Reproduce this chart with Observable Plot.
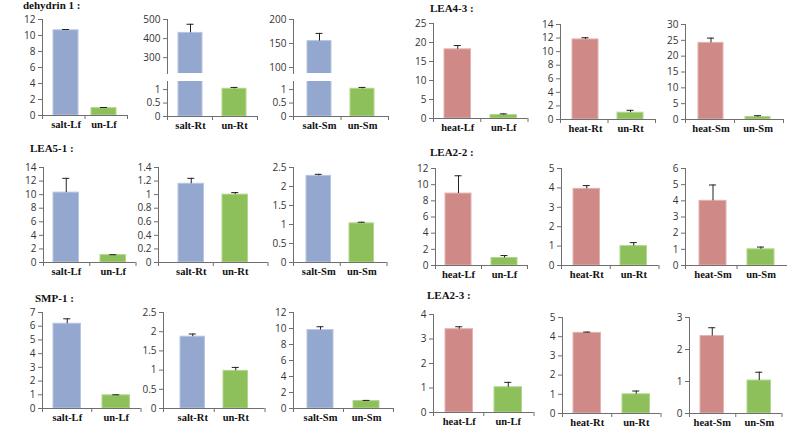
<!DOCTYPE html>
<html><head><meta charset="utf-8">
<script src="https://cdn.jsdelivr.net/npm/d3@7"></script>
<script src="https://cdn.jsdelivr.net/npm/@observablehq/plot@0.6"></script>
<style>
body{margin:0;background:#fff;}
#chart{position:relative;width:787px;height:432px;overflow:hidden;background:#fff;}
.pp{position:absolute;overflow:visible;}
.pp [aria-label^="y-axis"] text{fill:#333;}
.title{position:absolute;font:bold 11px "Liberation Serif",serif;line-height:11px;color:#111;white-space:nowrap;}
</style></head><body><div id="chart"></div>
<script>
// ---------- data ----------
const saltGenes = ["dehydrin 1 :", "LEA5-1 :", "SMP-1 :"];
const heatGenes = ["LEA4-3 :", "LEA2-2 :", "LEA2-3 :"];
const saltCats = [["salt-Lf","un-Lf"],["salt-Rt","un-Rt"],["salt-Sm","un-Sm"]];
const heatCats = [["heat-Lf","un-Lf"],["heat-Rt","un-Rt"],["heat-Sm","un-Sm"]];
// [gene][tissue Lf, Rt, Sm]
const saltValues     = [[10.65, 430, 155], [10.3, 1.16, 2.28], [6.18, 1.87, 9.8]];
const saltErrors     = [[0.1, 45, 16],     [2.1, 0.08, 0.04],  [0.36, 0.07, 0.42]];
const saltCtrlValues = [[0.92, 1.03, 1.03],[1.1, 1.0, 1.03],   [0.96, 0.98, 0.93]];
const saltCtrlErrors = [[0.08, 0.05, 0.05],[0.05, 0.03, 0.03], [0.04, 0.09, 0.08]];
const heatValues     = [[18.2, 11.8, 24.2],[8.9, 3.95, 4.0],   [3.4, 4.2, 2.42]];
const heatErrors     = [[1.0, 0.25, 1.5],  [2.2, 0.17, 0.98],  [0.1, 0.04, 0.26]];
const heatCtrlValues = [[0.9, 1.0, 0.8],   [0.93, 1.0, 1.0],   [1.03, 1.0, 1.03]];
const heatCtrlErrors = [[0.32, 0.35, 0.4], [0.3, 0.18, 0.14],  [0.2, 0.17, 0.26]];
// y-axis tick labels
const saltTicks = [
  [[0,2,4,6,8,10,12], null, null],
  [[0,2,4,6,8,10,12,14], [0,0.2,0.4,0.6,0.8,1,1.2,1.4], [0,0.5,1,1.5,2,2.5]],
  [[0,1,2,3,4,5,6,7], [0,0.5,1,1.5,2,2.5], [0,2,4,6,8,10,12]]
];
const heatTicks = [
  [[0,5,10,15,20,25], [0,2,4,6,8,10,12,14], [0,5,10,15,20,25,30]],
  [[0,2,4,6,8,10,12], [0,1,2,3,4,5], [0,1,2,3,4,5,6]],
  [[0,1,2,3,4], [0,1,2,3,4,5], [0,1,2,3]]
];
// broken-axis panels (dehydrin 1, Rt and Sm)
const brokenUpperTicks = [[300,400,500],[100,150,200]];
const brokenUpperDomains = [[217,500],[87.5,200]];
const brokenLowerTicks = [0,0.5,1];
const brokenLowerDomain = [0,1.3];

// ---------- layout (pixels) ----------
const saltLayout = [
  [{x0:42,b1:53,b2:91,bw:25,yTop:19,yZero:115},
   {x0:167,b1:178,b2:222,bw:24,yTop:19,yZero:116,upperBottom:73,lowerTop:81},
   {x0:293,b1:307,b2:350,bw:24,yTop:19,yZero:116,upperBottom:73,lowerTop:81}],
  [{x0:43,b1:53,b2:100,bw:25.5,yTop:167,yZero:262},
   {x0:158,b1:178,b2:222,bw:25.5,yTop:167,yZero:262},
   {x0:293,b1:306,b2:349,bw:24.5,yTop:167,yZero:262}],
  [{x0:42,b1:53,b2:102,bw:27.5,yTop:312,yZero:408},
   {x0:163,b1:180,b2:223,bw:24.5,yTop:312,yZero:408},
   {x0:293,b1:307,b2:353,bw:26,yTop:312,yZero:408}]
];
const heatLayout = [
  [{x0:433,b1:444,b2:490,bw:26.5,yTop:23,yZero:118},
   {x0:560,b1:572,b2:617,bw:26,yTop:24,yZero:119},
   {x0:685,b1:698,b2:745,bw:25,yTop:24,yZero:119}],
  [{x0:435,b1:445,b2:491,bw:26,yTop:168,yZero:265},
   {x0:561,b1:573,b2:620,bw:26.5,yTop:168,yZero:265},
   {x0:685,b1:699,b2:747,bw:27,yTop:168,yZero:265}],
  [{x0:433,b1:445,b2:494,bw:27.5,yTop:314,yZero:412},
   {x0:562,b1:573,b2:622,bw:27.5,yTop:317,yZero:413},
   {x0:689,b1:700,b2:747,bw:23.5,yTop:317,yZero:413}]
];
const titlePos = {salt: [[23,0.3],[30,143.3],[35,292.6]], heat: [[430,3.3],[430,146.6],[427,290.3]]};

const COLORS = {
  salt: {fill:"#94A8CF", stroke:"#B6C5E2"},
  heat: {fill:"#CF8A88", stroke:"#E2B2B0"},
  ctrl: {fill:"#8DC05A", stroke:"#B1D78C"}
};
const AXIS = "#6f6f6f";
const chart = document.getElementById("chart");

function drawPanel({cats, vals, errs, styles, ticks, domain, L, yTop, yBottom, showX}) {
  const step = L.b2 - L.b1;
  const pi = 1 - L.bw / step;
  const po = (L.b1 - L.x0) / step;
  const W = step * (2 - pi + 2 * po);
  const ml = 40, mr = 8, mt = 8, mb = showX ? 24 : 2;
  const plotH = yBottom - yTop;
  const rows = cats.map((c, i) => ({cat: c, value: vals[i], err: errs[i], st: styles[i]}));
  const errRows = rows.filter(d => d.value >= domain[0] && d.value + d.err <= domain[1]);
  const capInset = (L.bw - 7) / 2;
  const edge = L.bw / 2 + po * step;
  const marks = [
    ...rows.map(r => Plot.barY([r], {x: "cat", y1: d => 0, y2: "value", fill: r.st.fill, stroke: r.st.stroke, strokeWidth: 1, clip: true})),
    Plot.ruleX(errRows, {x: "cat", y1: "value", y2: d => d.value + d.err, stroke: "#222", strokeWidth: 1}),
    Plot.tickY(errRows, {x: "cat", y: d => d.value + d.err, insetLeft: capInset, insetRight: capInset, stroke: "#222", strokeWidth: 1})
  ];
  if (showX) {
    const tk = {x: d => d, insetTop: plotH, insetBottom: -4, stroke: AXIS};
    marks.push(
      Plot.ruleY([domain[0]], {stroke: AXIS}),
      Plot.ruleX([cats[0]], {...tk, dx: -edge}),
      Plot.ruleX([cats[1]], {...tk, dx: -step / 2}),
      Plot.ruleX([cats[1]], {...tk, dx: edge}),
      Plot.text(cats, {x: d => d, frameAnchor: "bottom", dy: 12, fontFamily: "Liberation Serif", fontWeight: "bold", fontSize: 10.5, fill: "#111"})
    );
  }
  const svg = Plot.plot({
    width: ml + W + mr, height: mt + plotH + mb,
    marginLeft: ml, marginRight: mr, marginTop: mt, marginBottom: mb,
    style: {fontFamily: "Open Sans", fontSize: "10px", color: AXIS, background: "transparent", overflow: "visible"},
    x: {type: "band", domain: cats, paddingInner: pi, paddingOuter: po, round: false, axis: null},
    y: {domain, ticks, tickSize: 4, tickPadding: 3, tickFormat: d => String(d), label: null, line: true},
    marks
  });
  svg.classList.add("pp");
  svg.style.left = (L.x0 - ml) + "px";
  svg.style.top = (yTop - mt) + "px";
  svg.style.maxWidth = "none";
  chart.appendChild(svg);
}

function drawGroup(kind, genes, cats, values, errors, ctrlValues, ctrlErrors, ticksAll, layout) {
  genes.forEach((g, gi) => {
    const t = document.createElement("div");
    t.className = "title";
    t.textContent = g;
    t.style.left = titlePos[kind][gi][0] + "px";
    t.style.top = titlePos[kind][gi][1] + "px";
    chart.appendChild(t);
    for (let ti = 0; ti < 3; ti++) {
      const L = layout[gi][ti];
      const base = {
        cats: cats[ti],
        vals: [values[gi][ti], ctrlValues[gi][ti]],
        errs: [errors[gi][ti], ctrlErrors[gi][ti]],
        styles: [COLORS[kind], COLORS.ctrl], L
      };
      if (L.upperBottom) {
        const bi = ti - 1;
        drawPanel({...base, ticks: brokenUpperTicks[bi], domain: brokenUpperDomains[bi], yTop: L.yTop, yBottom: L.upperBottom, showX: false});
        drawPanel({...base, ticks: brokenLowerTicks, domain: brokenLowerDomain, yTop: L.lowerTop, yBottom: L.yZero, showX: true});
      } else {
        const tks = ticksAll[gi][ti];
        drawPanel({...base, ticks: tks, domain: [0, tks[tks.length - 1]], yTop: L.yTop, yBottom: L.yZero, showX: true});
      }
    }
  });
}

drawGroup("salt", saltGenes, saltCats, saltValues, saltErrors, saltCtrlValues, saltCtrlErrors, saltTicks, saltLayout);
drawGroup("heat", heatGenes, heatCats, heatValues, heatErrors, heatCtrlValues, heatCtrlErrors, heatTicks, heatLayout);
</script></body></html>
